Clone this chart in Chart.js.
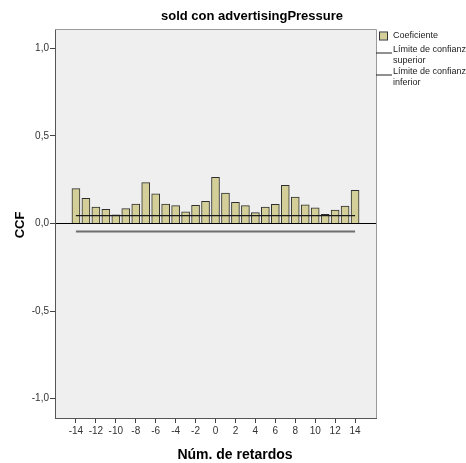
<!DOCTYPE html>
<html>
<head>
<meta charset="utf-8">
<script src="https://cdn.jsdelivr.net/npm/chart.js@4.4.0/dist/chart.umd.min.js"></script>
<style>
  html, body { margin: 0; padding: 0; background: #fff; }
  #wrap { width: 466px; height: 463px; }
</style>
</head>
<body>
<div id="wrap"><canvas id="ccf-chart"></canvas></div>
<script>
// lags and cross-correlation coefficients
const lags = [-14, -13, -12, -11, -10, -9, -8, -7, -6, -5, -4, -3, -2, -1, 0,
              1, 2, 3, 4, 5, 6, 7, 8, 9, 10, 11, 12, 13, 14];
const ccf = [0.199, 0.144, 0.093, 0.081, 0.050, 0.085, 0.111, 0.233, 0.169, 0.111,
             0.102, 0.067, 0.104, 0.127, 0.264, 0.173, 0.121, 0.102, 0.062, 0.094,
             0.110, 0.218, 0.151, 0.107, 0.089, 0.053, 0.077, 0.100, 0.190];
const upperLimit = [0.045, 0.045];
const lowerLimit = [-0.045, -0.045];
const limitLags = [-14, 14];

const xTicks = [-14, -12, -10, -8, -6, -4, -2, 0, 2, 4, 6, 8, 10, 12, 14];
const yTicks = [-1.0, -0.5, 0.0, 0.5, 1.0];

const chartTitle = 'sold con advertisingPressure';
const xTitle = 'Núm. de retardos';
const yTitle = 'CCF';
const legendItems = [
    { kind: 'box', lines: ['Coeficiente'] },
    { kind: 'line', lines: ['Límite de confianza', 'superior'] },
    { kind: 'line', lines: ['Límite de confianza', 'inferior'] }
];

const FONT = '"Liberation Sans", Arial, sans-serif';
const BAR_FILL = '#d4cf98';

// plot background, frame, titles and legend
const spssDecor = {
    id: 'spssDecor',
    beforeDraw(chart) {
        const {ctx, chartArea: a} = chart;
        ctx.save();
        ctx.fillStyle = '#efefef';
        ctx.fillRect(a.left, a.top, a.right - a.left, a.bottom - a.top);
        ctx.restore();
    },
    afterDraw(chart) {
        const {ctx, chartArea: a} = chart;
        ctx.save();
        // top and right frame
        ctx.strokeStyle = '#9a9a9a';
        ctx.lineWidth = 1;
        ctx.beginPath();
        ctx.moveTo(a.left, a.top + 0.5);
        ctx.lineTo(a.right + 0.5, a.top + 0.5);
        ctx.lineTo(a.right + 0.5, a.bottom);
        ctx.stroke();

        ctx.fillStyle = '#000';
        ctx.textAlign = 'center';
        ctx.textBaseline = 'middle';
        ctx.font = 'bold 13px ' + FONT;
        ctx.fillText(chartTitle, 252, 16);

        ctx.font = 'bold 14px ' + FONT;
        ctx.fillText(xTitle, 235, 455);

        ctx.font = 'bold 13px ' + FONT;
        ctx.save();
        ctx.translate(20, 225);
        ctx.rotate(-Math.PI / 2);
        ctx.fillText(yTitle, 0, 0);
        ctx.restore();

        // legend
        ctx.font = '9px ' + FONT;
        ctx.textAlign = 'left';
        ctx.fillStyle = '#222';
        let y = 36;
        legendItems.forEach((item) => {
            if (item.kind === 'box') {
                ctx.fillStyle = BAR_FILL;
                ctx.fillRect(380, y - 3.5, 7, 7);
                ctx.strokeStyle = '#333';
                ctx.strokeRect(379.5, y - 4, 8, 8);
                ctx.fillStyle = '#222';
                ctx.fillText(item.lines[0], 393, y);
                y += 13.5;
            } else {
                ctx.strokeStyle = '#222';
                ctx.beginPath();
                ctx.moveTo(376, y + 3.5);
                ctx.lineTo(392, y + 3.5);
                ctx.stroke();
                item.lines.forEach((t, i) => ctx.fillText(t, 393, y + i * 11));
                y += 22;
            }
        });
        ctx.restore();
    }
};

new Chart(document.getElementById('ccf-chart'), {
    type: 'bar',
    data: {
        datasets: [
            {
                type: 'line',
                label: 'Límite de confianza superior',
                data: limitLags.map((l, i) => ({x: l, y: upperLimit[i]})),
                borderColor: '#1a1a1a',
                borderWidth: 1.2,
                pointRadius: 0,
                order: 0
            },
            {
                type: 'line',
                label: 'Límite de confianza inferior',
                data: limitLags.map((l, i) => ({x: l, y: lowerLimit[i]})),
                borderColor: '#6e6e6e',
                borderWidth: 2,
                pointRadius: 0,
                order: 0
            },
            {
                label: 'Coeficiente',
                data: lags.map((l, i) => ({x: l, y: ccf[i]})),
                backgroundColor: BAR_FILL,
                borderColor: '#2e2e2e',
                borderWidth: 1,
                barThickness: 8,
                order: 1
            }
        ]
    },
    options: {
        responsive: true,
        maintainAspectRatio: false,
        animation: false,
        layout: { padding: { top: 29, right: 90, left: 0, bottom: 0 } },
        plugins: {
            legend: { display: false },
            tooltip: { enabled: false }
        },
        scales: {
            x: {
                type: 'linear',
                offset: false,
                min: -16.1,
                max: 16.1,
                afterBuildTicks: (scale) => { scale.ticks = xTicks.map(v => ({value: v})); },
                afterFit: (scale) => { scale.height = 45; },
                ticks: {
                    color: '#333',
                    font: { family: FONT, size: 10 },
                    padding: 2,
                    maxRotation: 0,
                    callback: (v) => String(v)
                },
                grid: {
                    offset: false,
                    drawOnChartArea: false,
                    tickLength: 5,
                    tickColor: '#444'
                },
                border: { color: '#555', width: 1 }
            },
            y: {
                min: -1.11,
                max: 1.11,
                afterBuildTicks: (scale) => { scale.ticks = yTicks.map(v => ({value: v})); },
                afterFit: (scale) => { scale.width = 55; },
                ticks: {
                    color: '#333',
                    font: { family: FONT, size: 10 },
                    padding: 1,
                    callback: (v) => v.toFixed(1).replace('.', ',')
                },
                grid: {
                    color: (c) => (c.tick && c.tick.value === 0 ? '#000' : 'transparent'),
                    tickLength: 5,
                    tickColor: '#444'
                },
                border: { color: '#555', width: 1 }
            }
        }
    },
    plugins: [spssDecor]
});
</script>
</body>
</html>
